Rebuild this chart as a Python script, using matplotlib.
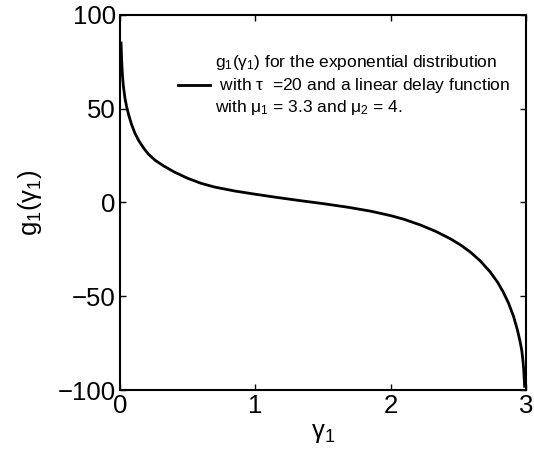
import matplotlib
matplotlib.use('Agg')
import matplotlib.pyplot as plt
import numpy as np

# valores
gamma1 = [0.008, 0.012, 0.018, 0.025, 0.037, 0.05, 0.065, 0.086, 0.11, 0.14,
          0.18, 0.21, 0.26, 0.32, 0.4, 0.5, 0.6, 0.7, 0.85, 1.0,
          1.15, 1.33, 1.5, 1.69, 1.85, 2.0, 2.1, 2.22, 2.33, 2.44,
          2.52, 2.59, 2.66, 2.735, 2.79, 2.83, 2.87, 2.907, 2.935, 2.956,
          2.969, 2.977, 2.983, 2.987, 2.99]
g1 = [85, 76, 68, 62, 55.5, 50.8, 46.5, 41.5, 37, 32.8,
      28.5, 25.8, 22.5, 19.6, 16.3, 12.9, 10.2, 8.2, 6.1, 4.4,
      2.8, 1.0, -0.6, -2.6, -4.6, -7.0, -9.0, -12.0, -15.3, -19.3,
      -22.8, -26.5, -31.0, -37.0, -42.5, -47.5, -53.5, -60.5, -67.5, -74,
      -79, -84, -89, -94, -98]

xticks = [0, 1, 2, 3]
yticks = [-100, -50, 0, 50, 100]

plt.rcParams['font.family'] = ['Liberation Sans', 'DejaVu Sans']
plt.rcParams['mathtext.default'] = 'regular'

fig = plt.figure(figsize=(5.34, 4.53), dpi=100)
ax = fig.add_axes([0.2247, 0.139, 0.7603, 0.828])

label = ('$g_1(\\gamma_1)$ for the exponential distribution\n'
         ' with $\\tau$  =20 and a linear delay function\n'
         'with $\\mu_1$ = 3.3 and $\\mu_2$ = 4.')
ax.plot(gamma1, g1, color='black', linewidth=2, label=label)

ax.set_xlim(0, 3)
ax.set_ylim(-100, 100)
ax.set_xticks(xticks)
ax.set_yticks(yticks)
ax.set_yticklabels(['\u2212100', '\u221250', '0', '50', '100'])
ax.tick_params(direction='in', length=4, width=1, labelsize=18.5, pad=3,
               top=True, right=True)
for s in ax.spines.values():
    s.set_linewidth(1.5)

ax.set_xlabel('$\\gamma_1$', fontsize=18.5, labelpad=2)
ax.set_ylabel('$g_1(\\gamma_1)$', fontsize=18.5, labelpad=10)

leg = ax.legend(loc='upper left', bbox_to_anchor=(0.143, 0.898), frameon=False,
                fontsize=12.5, handlelength=1.85, handletextpad=0.3,
                borderpad=0, borderaxespad=0)
for t in leg.get_texts():
    t.set_linespacing(1.25)

fig.savefig('out.png', dpi=100)
